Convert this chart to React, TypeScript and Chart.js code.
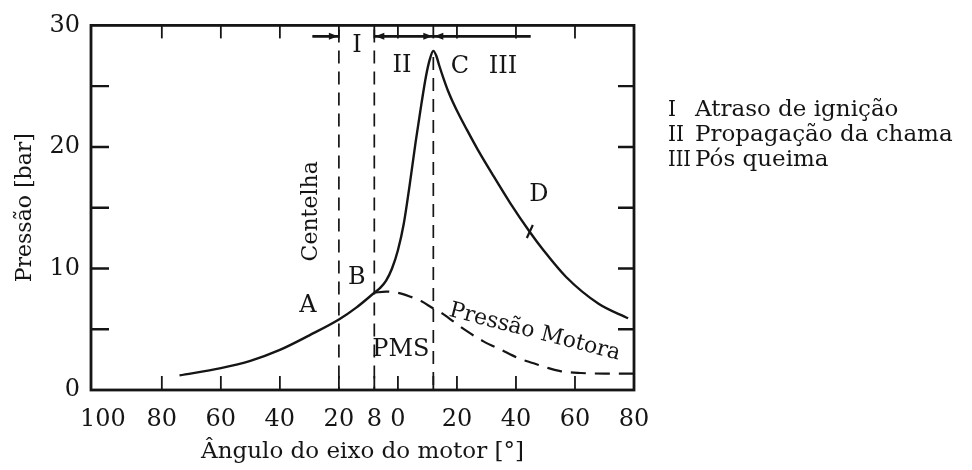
import React, { useEffect, useRef } from "react";
import { Chart, registerables } from "chart.js";

Chart.register(...registerables);

// ---- data ----
const firingAngle = [-74, -60, -50, -40, -30, -20, -14, -8, -6, -4, -2, 0, 2, 4, 6, 8, 9.5, 10.8, 12, 13, 14, 15.5, 17, 18.6, 21, 23.4, 27, 31.9, 38, 44.7, 49, 57, 68, 78];
const firingPressure = [1.2, 1.8, 2.4, 3.3, 4.5, 5.8, 6.8, 8.0, 8.4, 9.0, 10.0, 11.5, 13.7, 16.9, 20.4, 23.6, 25.8, 27.2, 27.9, 27.5, 26.7, 25.6, 24.6, 23.7, 22.5, 21.4, 19.8, 17.8, 15.4, 13.0, 11.6, 9.3, 7.1, 5.9];

const motoringAngle = [-8, -4, 0, 4, 8, 12, 15, 19, 23, 29, 35, 41, 46, 51, 55, 62, 70, 80];
const motoringPressure = [8.0, 8.1, 8.0, 7.7, 7.3, 6.7, 6.3, 5.6, 4.9, 4.0, 3.3, 2.6, 2.2, 1.8, 1.55, 1.4, 1.35, 1.35];

const xTickValues = [-100, -80, -60, -40, -20, -8, 0, 20, 40, 60, 80];
const yTickValues = [0, 10, 20, 30];
const bottomTickMarks = [-80, -60, -40, -20, -8, 0, 12, 20, 40, 60];
const topTickMarks = [-80, -60, -40, -20, -8, 0, 12, 20, 40, 60];
const sideTickMarks = [5, 10, 15, 20, 25];
const phaseLines = [-20, -8, 12];

const pointLabelText = ["A", "B", "C", "D", "PMS", "I", "II", "III"];
const pointLabelX = [-30.5, -13.9, 21.0, 47.8, 1.0, -13.9, 1.4, 35.6];
const pointLabelY = [6.9, 9.2, 26.6, 16.1, 3.3, 28.3, 26.7, 26.6];

const legendRoman = ["I", "II", "III"];
const legendText = ["Atraso de ignição", "Propagação da chama", "Pós queima"];

const SERIF = "'DejaVu Serif', 'Liberation Serif', serif";
const INK = "#151515";

function arrowHead(ctx: CanvasRenderingContext2D, x: number, y: number, dir: number) {
  ctx.beginPath();
  ctx.moveTo(x, y);
  ctx.lineTo(x - dir * 9, y - 3.5);
  ctx.lineTo(x - dir * 9, y + 3.5);
  ctx.closePath();
  ctx.fill();
}

const decorPlugin = {
  id: "decor",
  beforeDatasetsDraw(chart: any) {
    const { ctx, chartArea } = chart;
    const xs = chart.scales.x;
    const ys = chart.scales.y;
    ctx.save();
    ctx.strokeStyle = INK;
    ctx.lineWidth = 1.7;
    ctx.setLineDash([13, 8]);
    phaseLines.forEach((v, i) => {
      const px = xs.getPixelForValue(v);
      const top = i === 2 ? ys.getPixelForValue(27.4) : chartArea.top + 4;
      ctx.beginPath();
      ctx.moveTo(px, top);
      ctx.lineTo(px, chartArea.bottom);
      ctx.stroke();
    });
    ctx.setLineDash([]);
    ctx.restore();
  },
  afterDatasetsDraw(chart: any) {
    const { ctx, chartArea } = chart;
    const xs = chart.scales.x;
    const ys = chart.scales.y;
    ctx.save();
    ctx.strokeStyle = INK;
    ctx.fillStyle = INK;

    // frame
    ctx.lineWidth = 2.8;
    ctx.strokeRect(chartArea.left, chartArea.top, chartArea.right - chartArea.left, chartArea.bottom - chartArea.top);

    // inner tick marks
    ctx.lineWidth = 1.8;
    bottomTickMarks.forEach((v) => {
      const px = xs.getPixelForValue(v);
      ctx.beginPath();
      ctx.moveTo(px, chartArea.bottom);
      ctx.lineTo(px, chartArea.bottom - 14);
      ctx.stroke();
    });
    topTickMarks.forEach((v) => {
      const px = xs.getPixelForValue(v);
      ctx.beginPath();
      ctx.moveTo(px, chartArea.top);
      ctx.lineTo(px, chartArea.top + 13);
      ctx.stroke();
    });
    ctx.lineWidth = 2.4;
    sideTickMarks.forEach((v) => {
      const py = ys.getPixelForValue(v);
      ctx.beginPath();
      ctx.moveTo(chartArea.left, py);
      ctx.lineTo(chartArea.left + 18, py);
      ctx.moveTo(chartArea.right, py);
      ctx.lineTo(chartArea.right - 16, py);
      ctx.stroke();
    });

    // phase arrows along the top
    const ay = ys.getPixelForValue(29.1);
    ctx.lineWidth = 2.6;
    ctx.beginPath();
    ctx.moveTo(xs.getPixelForValue(-29), ay);
    ctx.lineTo(xs.getPixelForValue(-20), ay);
    ctx.moveTo(xs.getPixelForValue(-8), ay);
    ctx.lineTo(xs.getPixelForValue(45), ay);
    ctx.stroke();
    arrowHead(ctx, xs.getPixelForValue(-20) - 1, ay, 1);
    arrowHead(ctx, xs.getPixelForValue(-8) + 1, ay, -1);
    arrowHead(ctx, xs.getPixelForValue(12) - 1, ay, 1);
    arrowHead(ctx, xs.getPixelForValue(12) + 1, ay, -1);

    // small mark at D
    const dx = xs.getPixelForValue(44.7);
    const dy = ys.getPixelForValue(13.0);
    ctx.lineWidth = 2.2;
    ctx.beginPath();
    ctx.moveTo(dx + 3, dy - 7);
    ctx.lineTo(dx - 3, dy + 6);
    ctx.stroke();

    // point labels
    ctx.font = `24px ${SERIF}`;
    ctx.textAlign = "center";
    ctx.textBaseline = "middle";
    pointLabelText.forEach((t, i) => {
      ctx.fillText(t, xs.getPixelForValue(pointLabelX[i]), ys.getPixelForValue(pointLabelY[i]));
    });

    // Centelha (vertical)
    ctx.save();
    ctx.translate(xs.getPixelForValue(-29.5), ys.getPixelForValue(14.7));
    ctx.rotate(-Math.PI / 2);
    ctx.font = `22px ${SERIF}`;
    ctx.fillText("Centelha", 0, 0);
    ctx.restore();

    // Pressão Motora (slanted)
    ctx.save();
    ctx.translate(xs.getPixelForValue(46.4), ys.getPixelForValue(4.75));
    ctx.rotate((14.5 * Math.PI) / 180);
    ctx.font = `22px ${SERIF}`;
    ctx.fillText("Pressão Motora", 0, 0);
    ctx.restore();

    // legend to the right
    ctx.textAlign = "left";
    ctx.textBaseline = "alphabetic";
    ctx.font = `23px ${SERIF}`;
    const lx = chartArea.right + 34;
    const romanMax = [8, 16, 23];
    legendRoman.forEach((r, i) => {
      const by = chartArea.top + 91 + i * 25;
      ctx.fillText(r, lx, by, romanMax[i]);
      ctx.fillText(legendText[i], lx + 27, by);
    });

    ctx.restore();
  },
};

export default function App() {
  const canvasRef = useRef<HTMLCanvasElement | null>(null);

  useEffect(() => {
    const canvas = canvasRef.current;
    if (!canvas) return;
    const chart = new Chart(canvas, {
      type: "line",
      data: {
        datasets: [
          {
            label: "Pressão",
            data: firingAngle.map((a, i) => ({ x: a, y: firingPressure[i] })),
            borderColor: INK,
            borderWidth: 2.4,
            pointRadius: 0,
            fill: false,
            cubicInterpolationMode: "monotone",
          },
          {
            label: "Pressão Motora",
            data: motoringAngle.map((a, i) => ({ x: a, y: motoringPressure[i] })),
            borderColor: INK,
            borderWidth: 2.2,
            borderDash: [15, 9],
            pointRadius: 0,
            fill: false,
            cubicInterpolationMode: "monotone",
          },
        ],
      },
      options: {
        animation: false,
        responsive: false,
        devicePixelRatio: 1,
        layout: { padding: { left: 0, top: 22, right: 338, bottom: 0 } },
        plugins: { legend: { display: false }, tooltip: { enabled: false } },
        scales: {
          x: {
            type: "linear",
            min: -104,
            max: 80,
            afterBuildTicks: (s: any) => {
              s.ticks = xTickValues.map((v) => ({ value: v }));
            },
            afterFit: (s: any) => {
              s.height = 80;
            },
            ticks: {
              autoSkip: false,
              maxRotation: 0,
              padding: 15,
              color: INK,
              font: { family: SERIF, size: 24 },
              callback: (v: any) => String(Math.abs(Number(v))),
            },
            grid: { display: false, drawTicks: false },
            border: { display: false },
            title: {
              display: true,
              text: "Ângulo do eixo do motor [°]",
              color: INK,
              font: { family: SERIF, size: 23 },
              padding: { top: 0, bottom: 4 },
            },
          },
          y: {
            type: "linear",
            min: 0,
            max: 30,
            afterBuildTicks: (s: any) => {
              s.ticks = yTickValues.map((v) => ({ value: v }));
            },
            afterFit: (s: any) => {
              s.width = 91;
            },
            ticks: {
              padding: 11,
              color: INK,
              font: { family: SERIF, size: 24 },
            },
            grid: { display: false, drawTicks: false },
            border: { display: false },
            title: {
              display: true,
              text: "Pressão [bar]",
              color: INK,
              font: { family: SERIF, size: 22 },
              padding: { top: 12, bottom: 0 },
            },
          },
        },
      },
      plugins: [decorPlugin],
    } as any);
    return () => chart.destroy();
  }, []);

  return (
    <div style={{ position: "fixed", left: 0, top: 0, width: 972, height: 470, background: "#fff" }}>
      <canvas ref={canvasRef} width={972} height={470} style={{ display: "block", width: 972, height: 470 }} />
    </div>
  );
}
